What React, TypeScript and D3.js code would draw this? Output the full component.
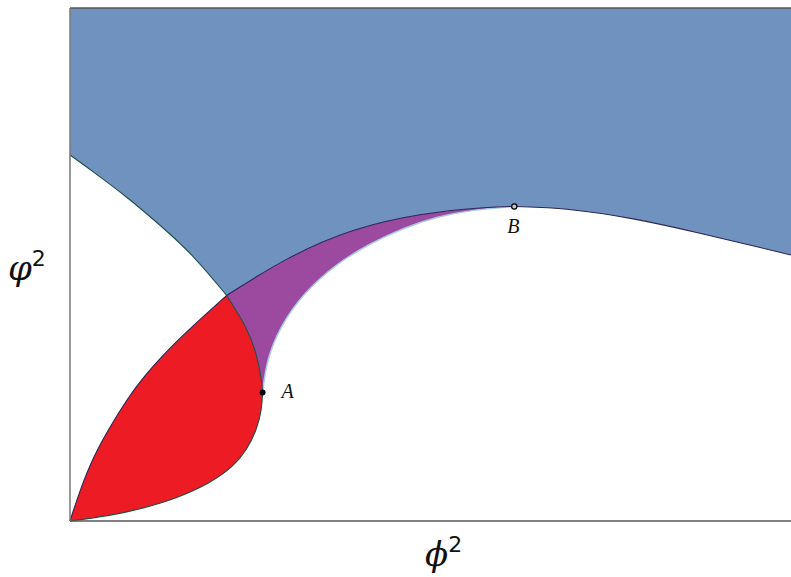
import React from "react";
import * as d3 from "d3";

// Data coordinates: ϕ² (x) in [0,100], φ² (y) in [0,100]
// Curve 1: left branch, from the top-left edge through A back to the origin
const curveLeft: [number, number][] = [
  [0, 71.35], [3.23, 68.09], [7.86, 63.22], [12.48, 57.7], [17.1, 51.85],
  [21.73, 43.96], [24.51, 37.88], [25.89, 32.69], [26.59, 27.49], [26.71, 25.03],
  [26.59, 21.64], [25.89, 17.74], [24.51, 13.84], [22.65, 10.58], [19.42, 7.35],
  [14.8, 4.42], [10.17, 2.48], [5.55, 1.03], [0, 0],
];
// Curve 2: from the origin through the crossing and B to the right edge
const curveUpper: [number, number][] = [
  [0, 0], [1.39, 6.04], [3.23, 12.53], [5.55, 18.38], [7.86, 23.59],
  [10.17, 28.13], [14.84, 35.28], [21.73, 43.96], [30.1, 51.46], [39.25, 57.06],
  [48.54, 59.98], [57.84, 61.21], [61.62, 61.31], [68.93, 61.01], [78.09, 59.06],
  [87.38, 56.14], [96.53, 53.02], [100, 51.85],
];
// Curve 3: inner boundary from A to B
const curveInner: [number, number][] = [
  [26.71, 25.03], [27.28, 31.4], [29.13, 37.9], [32.36, 44.4], [36.99, 50.2],
  [41.61, 54.1], [46.23, 57.1], [50.86, 59.3], [55.48, 60.6], [61.62, 61.31],
];
const pointA: [number, number] = [26.71, 25.03];
const pointB: [number, number] = [61.62, 61.31];

const CROSS_LEFT = 5; // index of crossing in curveLeft
const A_LEFT = 9; // index of A in curveLeft
const CROSS_UP = 7; // index of crossing in curveUpper
const B_UP = 12; // index of B in curveUpper

type P = [number, number];

export default function App() {
  const W = 791, H = 577;
  const x = d3.scaleLinear().domain([0, 100]).range([70, 791]);
  const y = d3.scaleLinear().domain([0, 100]).range([521, 8]);
  const line = d3
    .line<P>()
    .x((d) => x(d[0]))
    .y((d) => y(d[1]))
    .curve(d3.curveBasis);
  const seg = (pts: P[], first: boolean) => {
    const s = line(pts) || "";
    return first ? s : "L" + s.slice(1);
  };
  const rev = (a: P[]) => a.slice().reverse();

  const s1a = curveLeft.slice(0, CROSS_LEFT + 1);
  const s1b = curveLeft.slice(CROSS_LEFT, A_LEFT + 1);
  const s1c = curveLeft.slice(A_LEFT);
  const s2a = curveUpper.slice(0, CROSS_UP + 1);
  const s2b = curveUpper.slice(CROSS_UP, B_UP + 1);
  const s2c = curveUpper.slice(B_UP);

  const bluePath =
    `M${x(0)},${y(100)}L${x(0)},${y(curveLeft[0][1])}` +
    seg(s1a, false) + seg(s2b, false) + seg(s2c, false) +
    `L${x(100)},${y(100)}Z`;
  const redPath = seg(s2a, true) + seg(s1b, false) + seg(s1c, false) + "Z";
  const purplePath = seg(s2b, true) + seg(rev(curveInner), false) + seg(rev(s1b), false) + "Z";

  return (
    <svg width={W} height={H} style={{ position: "absolute", left: 0, top: 0 }}>
      <rect x={0} y={0} width={W} height={H} fill="#fff" />
      <path d={bluePath} fill="#7092be" />
      <path d={redPath} fill="#ed1c24" />
      <path d={purplePath} fill="#9c4aa0" />
      <path d={line(curveInner) || ""} fill="none" stroke="#a9c8ee" strokeWidth={1.5} />
      {[s1a, s1b, s1c].map((s, i) => (
        <path key={"l" + i} d={line(s) || ""} fill="none" stroke="#1e4f44" strokeWidth={1.1} />
      ))}
      {[s2a, s2b, s2c].map((s, i) => (
        <path key={"u" + i} d={line(s) || ""} fill="none" stroke="#2b2455" strokeWidth={1.1} />
      ))}
      {/* frame */}
      <line x1={70} x2={791} y1={8} y2={8} stroke="#555" strokeWidth={1.5} />
      <line x1={70} x2={791} y1={521} y2={521} stroke="#555" strokeWidth={1.5} />
      <line x1={70} x2={70} y1={8} y2={521} stroke="#777" strokeWidth={1.5} />
      {/* points */}
      <circle cx={x(pointA[0])} cy={y(pointA[1])} r={3} fill="#000" />
      <circle cx={x(pointB[0])} cy={y(pointB[1])} r={2.6} fill="#c8c8c8" stroke="#000" strokeWidth={1.2} />
      <text x={x(pointA[0]) + 19} y={y(pointA[1]) + 5} fontFamily="Liberation Serif" fontStyle="italic" fontSize={20} fill="#111">A</text>
      <text x={x(pointB[0]) - 1} y={y(pointB[1]) + 27} textAnchor="middle" fontFamily="Liberation Serif" fontStyle="italic" fontSize={20} fill="#111">B</text>
      {/* axis labels */}
      <text x={8} y={280} fontFamily="DejaVu Serif" fontStyle="italic" fontSize={34} fill="#111">
        φ<tspan fontSize={22} dy={-14} fontStyle="normal" fontFamily="DejaVu Sans">2</tspan>
      </text>
      <text x={425} y={566} fontFamily="DejaVu Serif" fontStyle="italic" fontSize={34} fill="#111">
        ϕ<tspan fontSize={22} dy={-14} fontStyle="normal" fontFamily="DejaVu Sans">2</tspan>
      </text>
    </svg>
  );
}
